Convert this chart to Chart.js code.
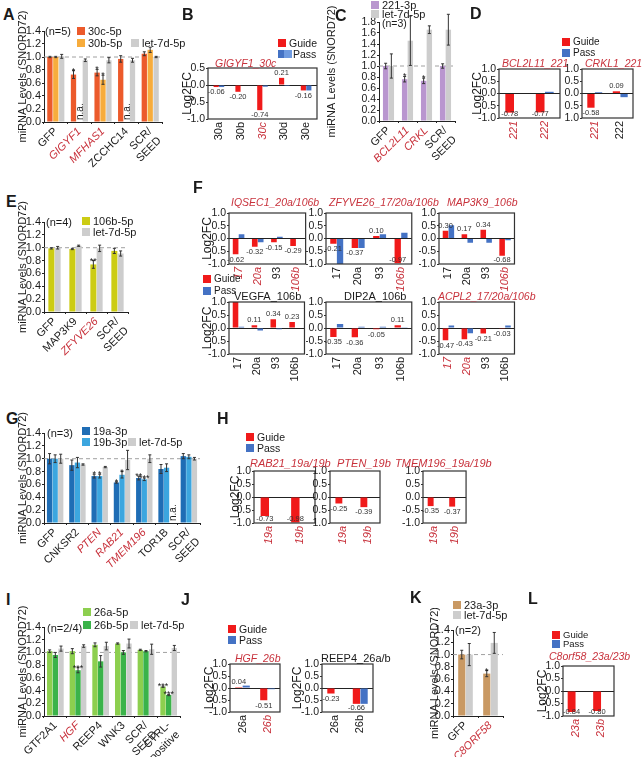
<!DOCTYPE html>
<html>
<head>
<meta charset="utf-8">
<title>miRNA levels and Log2FC panels</title>
<script src="https://cdn.jsdelivr.net/npm/chart.js@4.4.1/dist/chart.umd.min.js"></script>
<style>
  body { margin: 0; background: #fff; width: 642px; height: 757px; position: relative; overflow: hidden;
         font-family: "Liberation Sans", Arial, Helvetica, sans-serif; color: #1a1a1a; }
  canvas { position: absolute; }
  .t { position: absolute; white-space: nowrap; line-height: 1; }
  .sw { position: absolute; }
  .pl { position: absolute; font-weight: bold; font-size: 16px; line-height: 1; }
</style>
</head>
<body>
<script>
// ---- data -------------------------------------------------------------

// tick values
const ticksLvl14 = [0, 0.2, 0.4, 0.6, 0.8, 1.0, 1.2, 1.4];
const ticksLvl18 = [0, 0.2, 0.4, 0.6, 0.8, 1.0, 1.2, 1.4, 1.6, 1.8];
const ticksFc = [-1, -0.5, 0, 0.5, 1];
const ticksFcB = [-1, -0.5, 0, 0.5];

// A: miR-30 family levels
const catsA = ['GFP', 'GIGYF1', 'MFHAS1', 'ZCCHC14', ['SCR/', 'SEED']];
const hiA = [1, 2];
const lvl30c = [1.00, 0.73, 0.76, 0.97, 1.05];
const err30c = [0.01, 0.06, 0.05, 0.05, 0.03];
const sig30c = ['', '*', '*', '', ''];
const lvl30b = [1.00, null, 0.65, null, 1.11];
const err30b = [0.01, 0, 0.07, 0, 0.04];
const sig30b = ['', '', '*', '', ''];
const lvlLetA = [1.01, 0.95, 0.95, 0.95, 1.00];
const errLetA = [0.03, 0.02, 0.04, 0.03, 0.01];

// B: GIGYF1_30c
const catsB = ['30a', '30b', '30c', '30d', '30e'];
const hiB = [2];
const guideB = [-0.06, -0.20, -0.74, 0.21, -0.16];
const passB = [-0.06, 0.00, -0.05, -0.03, -0.16];

// C: miR-221
const catsC = ['GFP', 'BCL2L11', 'CRKL', ['SCR/', 'SEED']];
const hiC = [1, 2];
const lvl221 = [1.00, 0.76, 0.73, 1.00];
const err221 = [0.05, 0.05, 0.05, 0.04];
const sig221 = ['', '*', '*', ''];
const lvlLetC = [1.00, 1.46, 1.66, 1.66];
const errLetC = [0.22, 0.45, 0.07, 0.28];

// D: BCL2L11_221, CRKL1_221
const catsD = ['221', '222'];
const guideD1 = [-0.78, -0.77];
const passD1 = [0.00, 0.07];
const guideD2 = [-0.58, 0.09];
const passD2 = [0.05, -0.15];

// E: miR-106b
const catsE = ['GFP', 'MAP3K9', 'ZFYVE26', ['SCR/', 'SEED']];
const hiE = [2];
const lvl106b = [0.99, 0.98, 0.74, 0.95];
const err106b = [0.01, 0.01, 0.06, 0.04];
const sig106b = ['', '', '**', ''];
const lvlLetE = [1.00, 1.03, 0.99, 0.91];
const errLetE = [0.02, 0.01, 0.05, 0.04];

// F: six targets, miR-17/20a/93/106b
const catsF = ['17', '20a', '93', '106b'];
const guideIqsec1 = [-0.62, -0.32, -0.15, -0.29];
const passIqsec1 = [0.17, -0.15, 0.07, 0.02];
const guideZfyve26 = [-0.21, -0.37, 0.10, -0.97];
const passZfyve26 = [-1.00, -0.37, 0.17, 0.23];
const guideMap3k9 = [0.30, 0.17, 0.34, -0.68];
const passMap3k9 = [0.52, -0.17, -0.17, -0.07];
const guideVegfa = [1.25, 0.11, 0.34, 0.23];
const passVegfa = [0.05, -0.10, -0.05, -0.02];
const guideDip2a = [-0.35, -0.36, -0.05, 0.11];
const passDip2a = [0.15, 0.05, 0.05, 0.03];
const guideAcpl2 = [-0.47, -0.43, -0.21, -0.03];
const passAcpl2 = [0.10, -0.20, 0.00, 0.10];

// G: miR-19a/b
const catsG = ['GFP', 'CNKSR2', 'PTEN', 'RAB21', 'TMEM196', 'TOR1B', ['SCR/', 'SEED']];
const hiG = [2, 3, 4];
const lvl19a = [1.00, 0.90, 0.73, 0.63, 0.70, 0.84, 1.04];
const err19a = [0.08, 0.08, 0.03, 0.01, 0.03, 0.07, 0.04];
const sig19a = ['', '', '*', '*', '**', '', ''];
const lvl19b = [1.00, 0.94, 0.73, 0.75, 0.68, 0.86, 1.03];
const err19b = [0.06, 0.08, 0.03, 0.05, 0.02, 0.06, 0.03];
const sig19b = ['', '', '*', '*', '***', '', ''];
const lvlLetG = [1.00, 0.91, 0.87, 0.98, 1.00, null, 1.00];
const errLetG = [0.07, 0.01, 0.01, 0.15, 0.06, 0, 0.02];

// H: RAB21, PTEN, TMEM196
const catsH = ['19a', '19b'];
const guideRab21 = [-0.73, -0.98];
const passRab21 = [0, 0];
const guidePten = [-0.25, -0.39];
const passPten = [0, 0];
const guideTmem196 = [-0.35, -0.37];
const passTmem196 = [0, 0];

// I: miR-26a/b
const catsI = ['GTF2A1', 'HGF', 'REEP4', 'WNK3', ['SCR/', 'SEED'], ['CTRL-', 'positive']];
const hiI = [1];
const lvl26a = [1.02, 1.02, 1.12, 1.14, 1.04, 0.46];
const err26a = [0.02, 0.04, 0.03, 0.01, 0.01, 0.01];
const sig26a = ['', '', '', '', '', '***'];
const lvl26b = [0.96, 0.72, 0.86, 1.00, 1.02, 0.33];
const err26b = [0.04, 0.04, 0.09, 0.03, 0.01, 0.01];
const sig26b = ['', '***', '', '', '', '***'];
const lvlLetI = [1.06, 1.10, 1.10, 1.14, 1.05, 1.07];
const errLetI = [0.04, 0.02, 0.06, 0.07, 0.08, 0.04];

// J: HGF_26b, REEP4_26a/b
const catsJ = ['26a', '26b'];
const guideHgf = [0.04, -0.51];
const passHgf = [0.10, -0.05];
const guideReep4 = [-0.23, -0.66];
const passReep4 = [-0.02, -0.66];

// K: miR-23a
const catsK = ['GFP', 'C8ORF58'];
const hiK = [1];
const lvl23a = [1.00, 0.69];
const err23a = [0.07, 0.05];
const sig23a = ['', '*'];
const lvlLetK = [1.00, 1.19];
const errLetK = [0.18, 0.17];

// L: C8orf58_23a/23b
const catsL = ['23a', '23b'];
const guideC8 = [-0.84, -0.80];
const passC8 = [0, 0];

// ---- styling ----------------------------------------------------------

const FONT = '"Liberation Sans", Arial, Helvetica, sans-serif';
const INK = '#1a1a1a';
const RED_TXT = '#c8323c';
const GUIDE = '#f01a1a';
const PASS = '#4472c4';
const PASS_LT = '#6f9be0';
const GREY = '#cdcdcd';
const C30C = '#ec5a2b', C30B = '#f7ac3c', C221 = '#b996cf', C106B = '#cccc14';
const C19A = '#1f6db5', C19B = '#3ca6df', C26A = '#8dcf4f', C26B = '#3bb34a', C23A = '#c99963';

Chart.defaults.font.family = FONT;
Chart.defaults.color = INK;

// error bars, stars, n.a., value labels, dashed 1.0 line, frame
const marks = {
  id: 'marks',
  beforeDatasetsDraw(chart, args, opts) {
    if (opts.ref == null) return;
    const { ctx, chartArea: a } = chart;
    const py = chart.scales.y.getPixelForValue(opts.ref);
    ctx.save();
    ctx.strokeStyle = '#a0a0a0';
    ctx.lineWidth = 1;
    ctx.setLineDash([4, 3]);
    ctx.beginPath();
    ctx.moveTo(a.left, py);
    ctx.lineTo(a.right, py);
    ctx.stroke();
    ctx.restore();
  },
  afterDatasetsDraw(chart, args, opts) {
    const { ctx, chartArea: a } = chart;
    const y = chart.scales.y;
    ctx.save();
    chart.data.datasets.forEach((ds, di) => {
      chart.getDatasetMeta(di).data.forEach((el, i) => {
        const v = ds.data[i];
        if (v == null) {
          if (opts.na) {
            ctx.save();
            ctx.translate(el.x + 3.5, a.bottom - 2);
            ctx.rotate(-Math.PI / 2);
            ctx.font = '10px ' + FONT;
            ctx.fillStyle = INK;
            ctx.textAlign = 'left';
            ctx.textBaseline = 'alphabetic';
            ctx.fillText('n.a.', 0, 0);
            ctx.restore();
          }
          return;
        }
        let top = v;
        if (ds.errors && ds.errors[i]) {
          const e = ds.errors[i];
          const y1 = y.getPixelForValue(v - e), y2 = y.getPixelForValue(v + e);
          ctx.strokeStyle = '#333';
          ctx.lineWidth = 1;
          ctx.beginPath();
          ctx.moveTo(el.x, y1); ctx.lineTo(el.x, y2);
          ctx.moveTo(el.x - 1.5, y1); ctx.lineTo(el.x + 1.5, y1);
          ctx.moveTo(el.x - 1.5, y2); ctx.lineTo(el.x + 1.5, y2);
          ctx.stroke();
          top = v + e;
        }
        if (ds.sig && ds.sig[i]) {
          ctx.fillStyle = INK;
          ctx.font = '9px ' + FONT;
          ctx.textAlign = 'center';
          ctx.textBaseline = 'alphabetic';
          ctx.fillText(ds.sig[i], el.x, y.getPixelForValue(top) + 3);
        }
        if (ds.fcLabel && Math.abs(v) <= 1) {
          ctx.fillStyle = '#333';
          ctx.font = '7.5px ' + FONT;
          ctx.textAlign = 'center';
          if (v < 0) {
            ctx.textBaseline = 'top';
            ctx.fillText(v.toFixed(2), el.x, Math.min(el.y + 1.5, a.bottom - 8));
          } else {
            ctx.textBaseline = 'bottom';
            ctx.fillText(v.toFixed(2), el.x, el.y - 1.5);
          }
        }
      });
    });
    if (opts.frame) {
      ctx.strokeStyle = '#333';
      ctx.lineWidth = 1.2;
      ctx.strokeRect(a.left, a.top, a.right - a.left, a.bottom - a.top);
    }
    ctx.restore();
  }
};

function mkCanvas(l, t, w, h) {
  const c = document.createElement('canvas');
  c.width = w; c.height = h;
  c.style.left = l + 'px'; c.style.top = t + 'px';
  c.style.width = w + 'px'; c.style.height = h + 'px';
  document.body.appendChild(c);
  return c;
}

const tickColor = hi => c => hi.includes(c.index) ? RED_TXT : INK;
const tickFont = (hi, size) => c => ({ size, style: hi.includes(c.index) ? 'italic' : 'normal' });
const fixedTicks = vals => s => { s.ticks = vals.map(v => ({ value: v })); };
// re-apply the full tick list after Chart.js has done its own skipping
const keepTicks = vals => s => { s.ticks = vals.map(v => ({ value: v, label: v.toFixed(1) })); };

// box = [left, top, right, bottom] of the plot area in page pixels
function levelChart(box, yW, yTicks, cats, hi, sets, o) {
  const [l, t, r, b] = box;
  const pad = { left: 4, top: 22, right: 12, bottom: 4 };
  const xH = o.xH || 48;
  const c = mkCanvas(l - yW - pad.left, t - pad.top,
    r - l + yW + pad.left + pad.right, b - t + xH + pad.top + pad.bottom);
  return new Chart(c, {
    type: 'bar',
    plugins: [marks],
    data: {
      labels: cats,
      datasets: sets.map(s => ({
        data: s.data, backgroundColor: s.color, errors: s.err, sig: s.sig,
        categoryPercentage: o.cp, barPercentage: o.bp,
      })),
    },
    options: {
      responsive: false, animation: false, devicePixelRatio: 1,
      layout: { padding: pad },
      plugins: { legend: { display: false }, tooltip: { enabled: false }, marks: { ref: 1, na: true } },
      scales: {
        x: {
          grid: { drawOnChartArea: false, tickLength: 2, color: '#222' },
          border: { color: '#222' },
          ticks: { autoSkip: false, minRotation: 45, maxRotation: 45, padding: 1,
            color: tickColor(hi), font: tickFont(hi, 11) },
          afterFit: s => { s.height = xH; },
        },
        y: {
          min: yTicks[0], max: yTicks[yTicks.length - 1],
          afterBuildTicks: fixedTicks(yTicks),
          afterUpdate: keepTicks(yTicks),
          grid: { drawOnChartArea: false, tickLength: 2, color: '#222' },
          border: { color: '#222' },
          ticks: { autoSkip: false, autoSkipPadding: 0, padding: 1, callback: v => v.toFixed(1),
            font: { size: o.ty || 11, lineHeight: 1 } },
          title: { display: true, text: 'miRNA Levels (SNORD72)', font: { size: 11 }, padding: 0 },
          afterFit: s => { s.width = yW; },
        },
      },
    },
  });
}

function fcChart(box, yW, yTitle, cats, hi, guide, pass, o = {}) {
  const [l, t, r, b] = box;
  const pad = { left: 4, top: 8, right: 6, bottom: 2 };
  const xH = 30;
  const yTicks = o.ticks || ticksFc;
  const c = mkCanvas(l - yW - pad.left, t - pad.top,
    r - l + yW + pad.left + pad.right, b - t + xH + pad.top + pad.bottom);
  const cp = o.cp || 0.6;
  return new Chart(c, {
    type: 'bar',
    plugins: [marks],
    data: {
      labels: cats,
      datasets: [
        { data: guide, backgroundColor: GUIDE, fcLabel: true, categoryPercentage: cp, barPercentage: 0.95 },
        { data: pass, backgroundColor: PASS, categoryPercentage: cp, barPercentage: 0.95 },
      ],
    },
    options: {
      responsive: false, animation: false, devicePixelRatio: 1,
      layout: { padding: pad },
      plugins: { legend: { display: false }, tooltip: { enabled: false }, marks: { frame: true } },
      scales: {
        x: {
          grid: { display: false, drawTicks: false },
          border: { display: false },
          ticks: { autoSkip: false, minRotation: 90, maxRotation: 90, padding: 3,
            color: tickColor(hi), font: tickFont(hi, 11) },
          afterFit: s => { s.height = xH; },
        },
        y: {
          min: yTicks[0], max: yTicks[yTicks.length - 1],
          afterBuildTicks: fixedTicks(yTicks),
          afterUpdate: keepTicks(yTicks),
          grid: { color: c => (c.tick && c.tick.value === 0 ? '#222' : 'rgba(0,0,0,0)'),
            tickColor: '#333', tickLength: 2 },
          border: { display: false },
          ticks: { autoSkip: false, autoSkipPadding: 0, padding: 1, callback: v => v.toFixed(1),
            font: { size: 10.5, lineHeight: 1 } },
          title: { display: yTitle, text: 'Log2FC', font: { size: 12 }, padding: 0 },
          afterFit: s => { s.width = yW; },
        },
      },
    },
  });
}

// ---- page text --------------------------------------------------------

function text(x, yc, str, size, css) {
  const d = document.createElement('div');
  d.className = 't';
  d.textContent = str;
  d.style.cssText = `left:${x}px;top:${yc - size * 0.5}px;font-size:${size}px;` + (css || '');
  document.body.appendChild(d);
}
function swatch(x, yc, color, s = 8) {
  const d = document.createElement('div');
  d.className = 'sw';
  d.style.cssText = `left:${x}px;top:${yc - s / 2}px;width:${s}px;height:${s}px;background:${color}`;
  document.body.appendChild(d);
}
function legend(x, yc, color, str, size = 11) {
  swatch(x, yc, color);
  text(x + 11, yc, str, size);
}
function panel(x, yc, ch) {
  const d = document.createElement('div');
  d.className = 'pl';
  d.textContent = ch;
  d.style.left = x + 'px';
  d.style.top = (yc - 8) + 'px';
  document.body.appendChild(d);
}
const redTitle = (x, yc, s, size = 10.5) => text(x, yc, s, size, `font-style:italic;color:${RED_TXT}`);
const blackTitle = (x, yc, s, size = 11) => text(x, yc, s, size, 'color:#1a1a1a');

// ---- A ----
panel(3, 15, 'A');
levelChart([44, 31, 162, 122], 28, ticksLvl14, catsA, hiA, [
  { data: lvl30c, color: C30C, err: err30c, sig: sig30c },
  { data: lvl30b, color: C30B, err: err30b, sig: sig30b },
  { data: lvlLetA, color: GREY, err: errLetA },
], { cp: 0.75, bp: 0.9 });
text(45, 31, '(n=5)', 11);
legend(77, 31, C30C, '30c-5p');
legend(77, 43, C30B, '30b-5p');
legend(131, 43, GREY, 'let-7d-5p');

// ---- B ----
panel(182, 15, 'B');
fcChart([208, 68, 317, 119], 28, true, catsB, hiB, guideB, passB, { ticks: ticksFcB, cp: 0.5 });
legend(278, 43, GUIDE, 'Guide', 10.5);
swatch(278, 54, PASS);
swatch(284, 54, PASS_LT);
text(293, 54, 'Pass', 10.5);
redTitle(215, 63, 'GIGYF1_30c');

// ---- C ----
panel(335, 16, 'C');
levelChart([379, 22, 455, 121], 54, ticksLvl18, catsC, hiC, [
  { data: lvl221, color: C221, err: err221, sig: sig221 },
  { data: lvlLetC, color: GREY, err: errLetC },
], { cp: 0.6, bp: 0.95, ty: 10.5 });
legend(371, 5, C221, '221-3p');
legend(371, 14, GREY, 'let-7d-5p');
text(382, 23, '(n=3)', 10.5);

// ---- D ----
panel(470, 14, 'D');
fcChart([499, 69, 560, 118], 29, true, catsD, [0, 1], guideD1, passD1);
fcChart([582, 69, 633, 118], 18, false, catsD, [0], guideD2, passD2);
legend(562, 42, GUIDE, 'Guide', 10);
legend(562, 53, PASS, 'Pass', 10);
redTitle(502, 63, 'BCL2L11_221');
redTitle(585, 63, 'CRKL1_221');

// ---- E ----
panel(6, 202, 'E');
levelChart([44, 222, 128, 312], 28, ticksLvl14, catsE, hiE, [
  { data: lvl106b, color: C106B, err: err106b, sig: sig106b },
  { data: lvlLetE, color: GREY, err: errLetE },
], { cp: 0.6, bp: 0.95 });
text(46, 222, '(n=4)', 11);
legend(82, 221, C106B, '106b-5p');
legend(82, 232, GREY, 'let-7d-5p');

// ---- F ----
panel(193, 188, 'F');
fcChart([229, 213, 307, 264], 29, true, catsF, [0, 1, 3], guideIqsec1, passIqsec1, { cp: 0.62 });
fcChart([326, 213, 412, 264], 20, false, catsF, [3], guideZfyve26, passZfyve26, { cp: 0.62 });
fcChart([439, 213, 516, 264], 20, false, catsF, [3], guideMap3k9, passMap3k9, { cp: 0.62 });
fcChart([229, 302, 306, 354], 29, true, catsF, [], guideVegfa, passVegfa, { cp: 0.62 });
fcChart([326, 302, 412, 354], 20, false, catsF, [], guideDip2a, passDip2a, { cp: 0.62 });
fcChart([439, 302, 516, 354], 20, false, catsF, [0, 1], guideAcpl2, passAcpl2, { cp: 0.62 });
redTitle(231, 202, 'IQSEC1_20a/106b');
redTitle(329, 202, 'ZFYVE26_17/20a/106b');
redTitle(447, 202, 'MAP3K9_106b');
blackTitle(234, 296, 'VEGFA_106b');
blackTitle(344, 296, 'DIP2A_106b');
redTitle(438, 296, 'ACPL2_17/20a/106b');
legend(203, 279, GUIDE, 'Guide', 10);
legend(203, 291, PASS, 'Pass', 10);

// ---- G ----
panel(6, 419, 'G');
levelChart([44, 433, 200, 523], 28, ticksLvl14, catsG, hiG, [
  { data: lvl19a, color: C19A, err: err19a, sig: sig19a },
  { data: lvl19b, color: C19B, err: err19b, sig: sig19b },
  { data: lvlLetG, color: GREY, err: errLetG },
], { cp: 0.75, bp: 0.95, xH: 52 });
text(47, 433, '(n=3)', 11);
legend(82, 431, C19A, '19a-3p');
legend(82, 442, C19B, '19b-3p');
legend(128, 442, GREY, 'let-7d-5p');

// ---- H ----
panel(217, 419, 'H');
fcChart([254, 471, 315, 523], 26, true, catsH, [0, 1], guideRab21, passRab21, { cp: 0.58 });
fcChart([330, 471, 380, 523], 18, false, catsH, [0, 1], guidePten, passPten, { cp: 0.58 });
fcChart([423, 471, 467, 523], 26, false, catsH, [0, 1], guideTmem196, passTmem196, { cp: 0.58 });
legend(246, 437, GUIDE, 'Guide', 10.5);
legend(246, 448, PASS, 'Pass', 10.5);
redTitle(250, 463, 'RAB21_19a/19b', 11);
redTitle(337, 463, 'PTEN_19b', 11);
redTitle(395, 463, 'TMEM196_19a/19b', 11);

// ---- I ----
panel(6, 600, 'I');
levelChart([44, 627, 180, 716], 28, ticksLvl14, catsI, hiI, [
  { data: lvl26a, color: C26A, err: err26a, sig: sig26a },
  { data: lvl26b, color: C26B, err: err26b, sig: sig26b },
  { data: lvlLetI, color: GREY, err: errLetI },
], { cp: 0.75, bp: 0.95, xH: 50 });
text(47, 628, '(n=2/4)', 11);
legend(83, 612, C26A, '26a-5p');
legend(83, 625, C26B, '26b-5p');
legend(130, 625, GREY, 'let-7d-5p');

// ---- J ----
panel(181, 600, 'J');
fcChart([230, 664, 280, 712], 28, true, catsJ, [1], guideHgf, passHgf);
fcChart([322, 664, 373, 712], 32, true, catsJ, [], guideReep4, passReep4);
legend(228, 629, GUIDE, 'Guide', 10.5);
legend(228, 640, PASS, 'Pass', 10.5);
redTitle(235, 658, 'HGF_26b');
blackTitle(321, 658, 'REEP4_26a/b');

// ---- K ----
panel(410, 598, 'K');
levelChart([453, 630, 503, 716], 25, ticksLvl14, catsK, hiK, [
  { data: lvl23a, color: C23A, err: err23a, sig: sig23a },
  { data: lvlLetK, color: GREY, err: errLetK },
], { cp: 0.6, bp: 0.95 });
legend(453, 605, C23A, '23a-3p');
legend(453, 615, GREY, 'let-7d-5p');
text(455, 630, '(n=2)', 11);

// ---- L ----
panel(528, 599, 'L');
fcChart([563, 666, 614, 716], 28, true, catsL, [0, 1], guideC8, passC8, { cp: 0.65 });
legend(552, 635, GUIDE, 'Guide', 9.5);
legend(552, 644, PASS, 'Pass', 9.5);
redTitle(549, 656, 'C8orf58_23a/23b');
</script>
</body>
</html>
